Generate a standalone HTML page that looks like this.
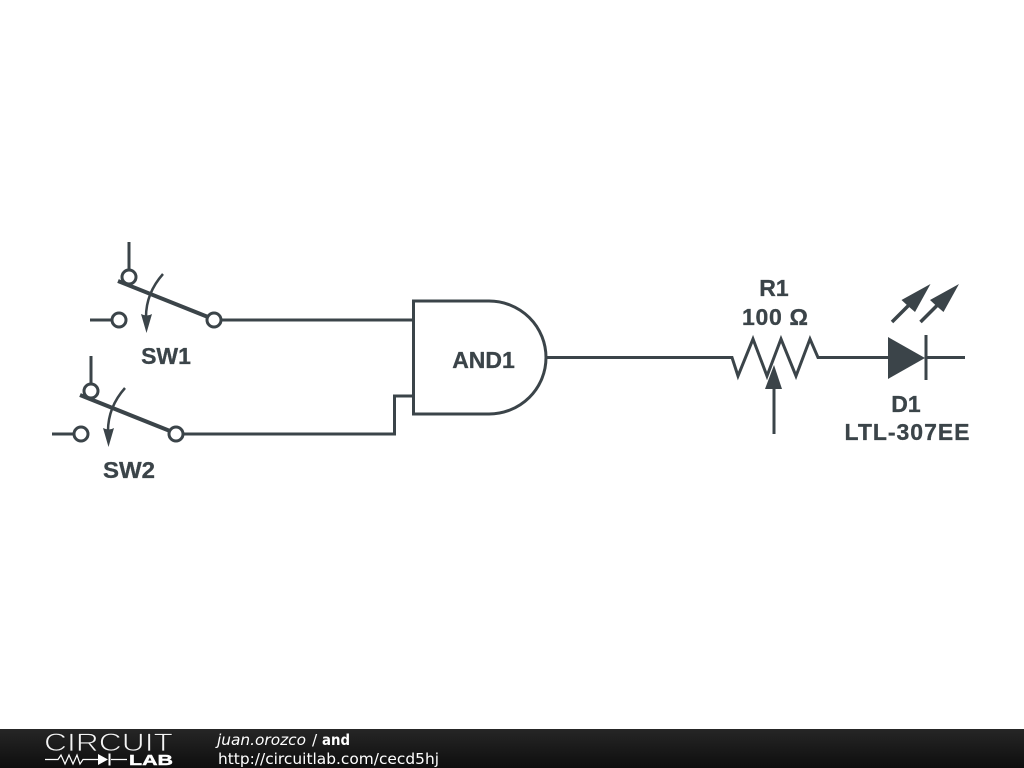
<!DOCTYPE html>
<html><head><meta charset="utf-8"><style>
html,body{margin:0;padding:0;background:#fff}
svg{display:block}
</style></head><body>
<svg xmlns="http://www.w3.org/2000/svg" width="1024" height="768" viewBox="0 0 1024 768">
<defs><linearGradient id="g" x1="0" y1="0" x2="0" y2="1"><stop offset="0" stop-color="#262626"/><stop offset="1" stop-color="#0e0e0e"/></linearGradient></defs>
<rect width="1024" height="768" fill="#fff"/>
<g fill="none" stroke="#3b4449" stroke-width="3">
<path d="M129 242V270M90 320H112M221 320H413"/>
<path d="M118 281L208 317" stroke-width="4"/>
<circle cx="129" cy="277" r="7" fill="#fff"/><circle cx="119" cy="320" r="7" fill="#fff"/><circle cx="214" cy="320" r="7" fill="#fff"/>
<path d="M163 274C155 283 146 297 146 317" stroke-width="2.5"/>
<path d="M91 356V384M52 434H74M183 434H394.500V396H413"/>
<path d="M80 395L170 431" stroke-width="4"/>
<circle cx="91" cy="391" r="7" fill="#fff"/><circle cx="81" cy="434" r="7" fill="#fff"/><circle cx="176" cy="434" r="7" fill="#fff"/>
<path d="M125 388C117 397 108 411 108 431" stroke-width="2.5"/>
<path d="M413.500 301H489A57 56.500 0 0 1 489 414H413.500Z" fill="#fff"/>
<path d="M547 357.500H732L738 376L753 339L767 376L781 339L796 376L810 339L818 357.500H888M926 335V380M926 357.500H965"/>
<path d="M774 385V434"/>
<path d="M892 322L909 305M920.500 322L937.500 305" stroke-width="3.500"/>
</g>
<g fill="#3b4449">
<path d="M146.500 333L141 314Q147 317 152 314Z"/>
<path d="M108.500 447L103 428Q109 431 114 428Z"/>
<path d="M774 365L765 389H782Z"/>
<path d="M888 337L925 358L888 379Z"/>
<path d="M930.500 284L915 312L908 306L901.500 300Z"/>
<path d="M959 284L943.500 312L936.500 306L930 300Z"/>
</g>
<g font-family="'Liberation Sans',sans-serif" font-weight="700" font-size="23" fill="#3b4449" stroke="#3b4449" stroke-width="0.3" text-anchor="middle">
<text x="166" y="364">SW1</text>
<text x="129" y="478" textLength="52" lengthAdjust="spacingAndGlyphs">SW2</text>
<text x="483.500" y="368">AND1</text>
<text x="774" y="296">R1</text>
<text x="775" y="325" textLength="66">100 Ω</text>
<text x="906" y="412">D1</text>
<text x="907" y="440" textLength="125">LTL-307EE</text>
</g>
<rect y="729" width="1024" height="39" fill="url(#g)"/>
<text x="44" y="751" font-family="'Liberation Sans',sans-serif" font-size="25" fill="#f4f4f4" stroke="#1c1c1c" stroke-width="0.8" textLength="129" lengthAdjust="spacingAndGlyphs">CIRCUIT</text>
<path d="M45 759.500H58L61 755L65 764L69 755L73 764L77 755L80 764L83 759.500H99M111 759.500H127" fill="none" stroke="#fff" stroke-width="1.200"/>
<path d="M98 754L108 759.500L98 765Z M108.500 753.500H110.500V765.500H108.500Z" fill="#fff"/>
<text x="129" y="765" font-family="'Liberation Sans',sans-serif" font-weight="700" font-size="14.500" fill="#fff" stroke="#fff" stroke-width="0.400" textLength="44" lengthAdjust="spacingAndGlyphs">LAB</text>
<g font-family="'DejaVu Sans',sans-serif" font-size="15.300" fill="#fff">
<text x="217" y="745" font-style="italic" textLength="89" lengthAdjust="spacingAndGlyphs">juan.orozco</text>
<text x="312" y="745">/</text>
<text x="322" y="745" font-weight="700" textLength="28" lengthAdjust="spacingAndGlyphs">and</text>
<text x="218" y="764" textLength="221" lengthAdjust="spacingAndGlyphs">http://circuitlab.com/cecd5hj</text>
</g>
</svg>
</body></html>
